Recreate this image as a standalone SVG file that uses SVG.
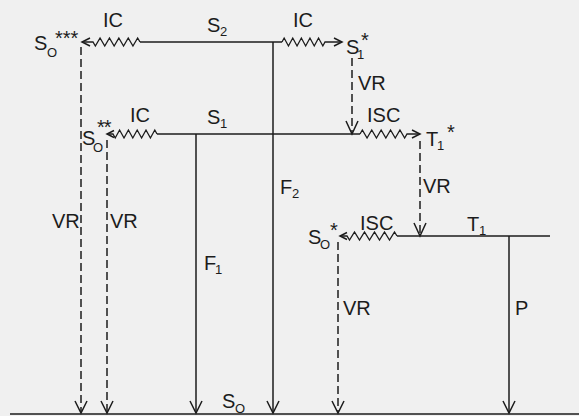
<svg xmlns="http://www.w3.org/2000/svg" width="579" height="416" viewBox="0 0 579 416">
<style>
.ln{fill:none;stroke:#1c1c1c;stroke-width:1.5;stroke-linejoin:miter}
.ds{fill:none;stroke:#1c1c1c;stroke-width:1.5;stroke-dasharray:8 4}
.zz{fill:none;stroke:#1c1c1c;stroke-width:1.3;stroke-linejoin:miter}
.ah{fill:none;stroke:#1c1c1c;stroke-width:1.5}
text{font-family:"Liberation Sans",Arial,sans-serif;fill:#1c1c1c}
.lb{font-size:20px}
.sb{font-size:13px}
.st{font-size:20px}
</style>
<rect width="579" height="416" fill="#f0f0f0"/>
<g id="connectors">
  <!-- ground line -->
  <path class="ln" d="M10 414 H579"/>
  <!-- S2 level -->
  <path class="ln" d="M140 42 H282"/>
  <path class="ln" d="M273 42 V413"/>
  <polyline class="zz" points="140,42 137.65,38 132.95,46 128.25,38 123.55,46 118.85,38 114.15,46 109.45,38 104.75,46 100.05,38 95.35,46 93,42 82,42"/>
  <path class="ah" d="M90 38 L82 42 L90 46"/>
  <polyline class="zz" points="282,42 284.15,38 288.45,46 292.75,38 297.05,46 301.35,38 305.65,46 309.95,38 314.25,46 318.55,38 322.85,46 325,42 342,42"/>
  <path class="ah" d="M334 38 L342 42 L334 46"/>
  <!-- S1* VR -->
  <path class="ds" d="M352 58 V133"/>
  <path class="ah" d="M346 121 L352 134 L358 121"/>
  <!-- S1 level -->
  <path class="ln" d="M157 134 H360"/>
  <path class="ln" d="M196 134 V413"/>
  <polyline class="zz" points="157,134 154.8,130 150.4,138 146,130 141.6,138 137.2,130 132.8,138 128.4,130 124,138 119.6,130 115.2,138 113,134 107,134"/>
  <path class="ah" d="M114 130.5 L107 134 L114 137.5"/>
  <polyline class="zz" points="360,134 362.35,130 367.05,138 371.75,130 376.45,138 381.15,130 385.85,138 390.55,130 395.25,138 399.95,130 404.65,138 407,134 420,134"/>
  <path class="ah" d="M412 130 L420 134 L412 138"/>
  <!-- T1* VR -->
  <path class="ds" d="M420 141 V235"/>
  <path class="ah" d="M414 223 L420 236 L426 223"/>
  <!-- T1 level -->
  <path class="ln" d="M397 236 H550"/>
  <path class="ln" d="M509 236 V413"/>
  <polyline class="zz" points="397,236 394.5,232 389.5,240 384.5,232 379.5,240 374.5,232 369.5,240 364.5,232 359.5,240 354.5,232 349.5,240 347,236 340,236"/>
  <path class="ah" d="M347 232.5 L340 236 L347 239.5"/>
  <!-- VR to ground -->
  <path class="ds" d="M81 47 V412"/>
  <path class="ds" d="M107 140 V412"/>
  <path class="ds" d="M338 242 V412"/>
  <!-- arrowheads at ground -->
  <path class="ah" d="M75 401 L81 413 L87 401"/>
  <path class="ah" d="M101 401 L107 413 L113 401"/>
  <path class="ah" d="M190 401 L196 413 L202 401"/>
  <path class="ah" d="M267 401 L273 413 L279 401"/>
  <path class="ah" d="M332 401 L338 413 L344 401"/>
  <path class="ah" d="M503 401 L509 413 L515 401"/>
  <!-- process labels -->
  <text class="lb" x="103" y="27">IC</text>
  <text class="lb" x="293" y="27">IC</text>
  <text class="lb" x="130" y="122">IC</text>
  <text class="lb" x="358" y="90">VR</text>
  <text class="lb" x="367" y="122">ISC</text>
  <text class="lb" x="423" y="193">VR</text>
  <text class="lb" x="360" y="230">ISC</text>
  <text class="lb" x="52" y="228">VR</text>
  <text class="lb" x="110" y="228">VR</text>
  <text class="lb" x="343" y="315">VR</text>
  <text class="lb" x="515" y="315">P</text>
  <text class="lb" x="204" y="270">F<tspan class="sb" x="215" y="274">1</tspan></text>
  <text class="lb" x="280" y="194">F<tspan class="sb" x="292" y="198">2</tspan></text>
</g>
<g id="node-S0-3star">
  <text class="lb" x="34" y="50" font-size="21">S<tspan class="sb" x="47" y="57" font-size="15">O</tspan><tspan class="st" x="55" y="45">***</tspan></text>
</g>
<g id="node-S2">
  <text class="lb" x="207" y="32">S<tspan class="sb" x="220" y="36">2</tspan></text>
</g>
<g id="node-S1star">
  <text class="lb" x="346" y="54" font-size="21">S<tspan class="sb" x="357" y="59">1</tspan><tspan class="st" x="361" y="47" font-size="22">*</tspan></text>
</g>
<g id="node-S0-2star">
  <text class="lb" x="82" y="145">S<tspan class="sb" x="93" y="152">O</tspan><tspan class="st" x="97" y="134" font-size="17" letter-spacing="-1">**</tspan></text>
</g>
<g id="node-S1">
  <text class="lb" x="207" y="124">S<tspan class="sb" x="220" y="128">1</tspan></text>
</g>
<g id="node-T1star">
  <text class="lb" x="426" y="146">T<tspan class="sb" x="437" y="150">1</tspan><tspan class="st" x="447" y="139">*</tspan></text>
</g>
<g id="node-S0-star">
  <text class="lb" x="308" y="244" font-size="19">S<tspan class="sb" x="320" y="249" font-size="13">O</tspan><tspan class="st" x="330" y="237">*</tspan></text>
</g>
<g id="node-T1">
  <text class="lb" x="467" y="231">T<tspan class="sb" x="479" y="235">1</tspan></text>
</g>
<g id="node-S0-ground">
  <text class="lb" x="222" y="408" font-size="22">S<tspan class="sb" x="235" y="413" font-size="15">O</tspan></text>
</g>
</svg>
